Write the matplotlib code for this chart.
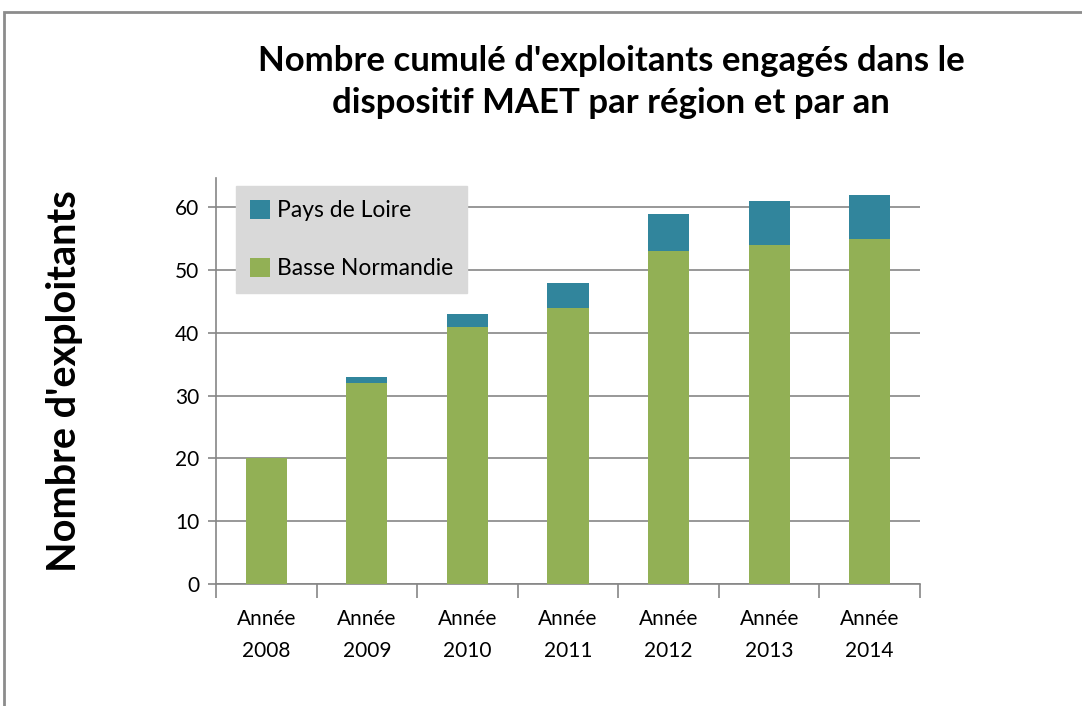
import numpy as np
import matplotlib
matplotlib.use('Agg')
import matplotlib.pyplot as plt
from matplotlib.patches import Rectangle

# données
annees = ['Année\n2008', 'Année\n2009', 'Année\n2010', 'Année\n2011',
          'Année\n2012', 'Année\n2013', 'Année\n2014']
basse_normandie = [20, 32, 41, 44, 53, 54, 55]
pays_de_loire = [0, 1, 2, 4, 6, 7, 7]

plt.rcParams['font.family'] = ['Lato', 'DejaVu Sans']

fig = plt.figure(figsize=(10.82, 7.06), dpi=100)
ax = fig.add_axes([216 / 1082, 1 - 584 / 706, (920 - 216) / 1082, (584 - 178) / 706])

# cadre extérieur
fig.patches.append(Rectangle((4 / 1082, -0.05), 1.1, 1 - 12 / 706 + 0.05,
                             transform=fig.transFigure, fill=False,
                             edgecolor='#8c8c8c', linewidth=2))

x = np.arange(len(annees))
ax.bar(x, basse_normandie, width=0.41, color='#92b055', label='Basse Normandie', zorder=3)
ax.bar(x, pays_de_loire, width=0.41, bottom=basse_normandie, color='#31859c',
       label='Pays de Loire', zorder=3)

ax.set_xlim(-0.5, len(annees) - 0.5)
ax.set_ylim(0, 64.7)
ax.set_yticks(range(0, 61, 10))
ax.yaxis.grid(True, color='#868686', linewidth=1.2, zorder=0)
ax.set_axisbelow(True)

# graduations des catégories
ax.set_xticks(x)
ax.set_xticklabels(annees, fontsize=15, linespacing=1.75)
ax.set_xticks(np.arange(-0.5, len(annees), 1), minor=True)
ax.tick_params(axis='x', which='major', length=0, pad=18)
ax.tick_params(axis='x', which='minor', length=10, color='#868686', width=1.2)
ax.tick_params(axis='y', length=6, color='#868686', width=1.2, labelsize=15, pad=6)

for s in ['top', 'right']:
    ax.spines[s].set_visible(False)
for s in ['left', 'bottom']:
    ax.spines[s].set_color('#868686')
    ax.spines[s].set_linewidth(1.2)

ax.set_ylabel("Nombre d'exploitants", fontsize=28.5, fontweight='bold', labelpad=66)

fig.text(611 / 1082, 1 - 82 / 706,
         "Nombre cumulé d'exploitants engagés dans le\ndispositif MAET par région et par an",
         ha='center', va='center', fontsize=25, fontweight='bold', linespacing=1.35)

# légende (ordre inversé)
handles, labels = ax.get_legend_handles_labels()
leg = ax.legend(handles[::-1], labels[::-1], loc='upper left',
                bbox_to_anchor=(20 / 704, 1 - 8 / 406), fontsize=16.5,
                frameon=True, fancybox=False, labelspacing=1.6,
                handlelength=0.9, handleheight=0.9, handletextpad=0.3,
                borderpad=0.6, borderaxespad=0)
leg.get_frame().set_facecolor('#d9d9d9')
leg.get_frame().set_edgecolor('#d9d9d9')
leg.get_frame().set_alpha(1)

fig.savefig('out.png', dpi=100)
